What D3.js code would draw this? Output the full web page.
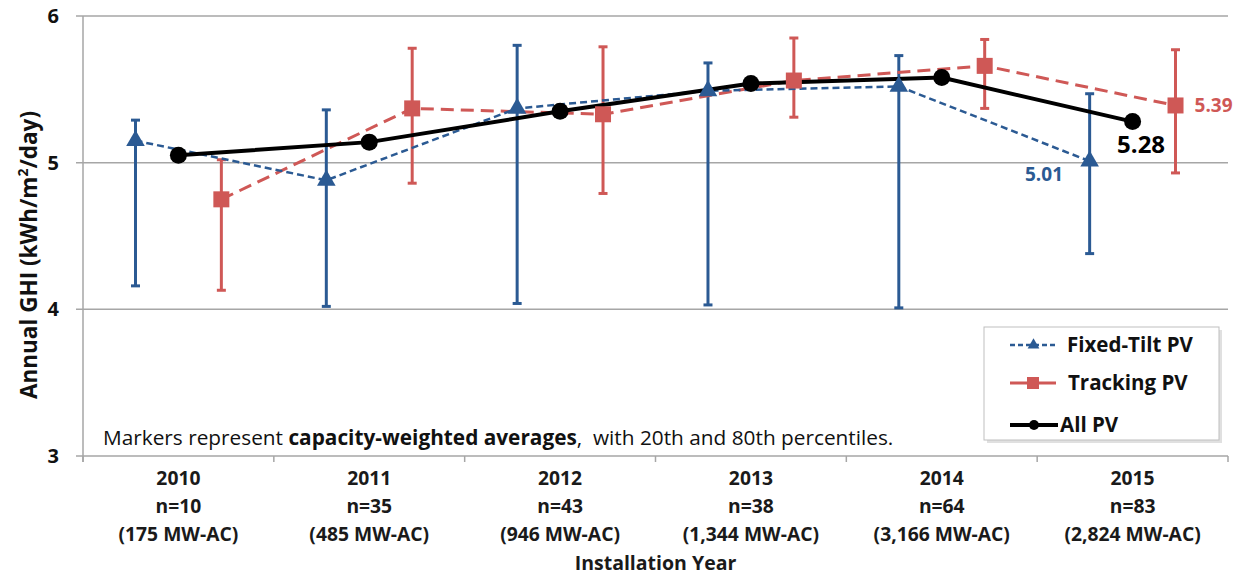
<!DOCTYPE html>
<html>
<head>
<meta charset="utf-8">
<script src="https://cdn.jsdelivr.net/npm/d3@7"></script>
<style>
  body { margin: 0; background: #fff; }
  text { font-family: "Open Sans", sans-serif; }
</style>
</head>
<body>
<div id="chart"></div>
<script>
// chart data
var years = ["2010", "2011", "2012", "2013", "2014", "2015"];
var counts = ["n=10", "n=35", "n=43", "n=38", "n=64", "n=83"];
var capacity = ["(175 MW-AC)", "(485 MW-AC)", "(946 MW-AC)", "(1,344 MW-AC)", "(3,166 MW-AC)", "(2,824 MW-AC)"];

var fixedAvg = [5.15, 4.88, 5.37, 5.49, 5.52, 5.01];
var fixedP20 = [4.16, 4.02, 4.04, 4.03, 4.01, 4.38];
var fixedP80 = [5.29, 5.36, 5.80, 5.68, 5.73, 5.47];

var trackAvg = [4.75, 5.37, 5.33, 5.56, 5.66, 5.39];
var trackP20 = [4.13, 4.86, 4.79, 5.31, 5.37, 4.93];
var trackP80 = [5.02, 5.78, 5.79, 5.85, 5.84, 5.77];

var allAvg = [5.05, 5.14, 5.35, 5.54, 5.58, 5.28];

var yTicks = [3, 4, 5, 6];

var width = 1242, height = 575;
var margin = { left: 83, right: 14, top: 16, bottom: 119 };

var svg = d3.select("#chart").append("svg")
    .attr("width", width)
    .attr("height", height);

var x = d3.scaleBand()
    .domain(years)
    .range([margin.left, width - margin.right]);

var y = d3.scaleLinear()
    .domain([3, 6])
    .range([height - margin.bottom, margin.top]);

var off = x.bandwidth() * 0.225;
function cx(i) { return x(years[i]) + x.bandwidth() / 2; }

var blue = "#2b5a93";
var red = "#cf5856";

// gridlines
svg.selectAll("line.grid")
    .data(yTicks)
    .enter()
    .append("line")
    .attr("class", "grid")
    .attr("x1", margin.left - 7)
    .attr("x2", width - margin.right)
    .attr("y1", function(d) { return y(d); })
    .attr("y2", function(d) { return y(d); })
    .attr("stroke", "#a6a6a6")
    .attr("stroke-width", 1.5);

// y axis line
svg.append("line")
    .attr("x1", margin.left).attr("x2", margin.left)
    .attr("y1", y(6)).attr("y2", y(3) + 6)
    .attr("stroke", "#a6a6a6")
    .attr("stroke-width", 1.5);

// x ticks at category boundaries
var bounds = years.map(function(d) { return x(d); }).concat([width - margin.right]);
svg.selectAll("line.xtick")
    .data(bounds)
    .enter()
    .append("line")
    .attr("class", "xtick")
    .attr("x1", function(d) { return d; })
    .attr("x2", function(d) { return d; })
    .attr("y1", y(3))
    .attr("y2", y(3) + 6)
    .attr("stroke", "#a6a6a6")
    .attr("stroke-width", 1.5);

// y tick labels
svg.selectAll("text.ytick")
    .data(yTicks)
    .enter()
    .append("text")
    .attr("class", "ytick")
    .attr("x", 59)
    .attr("y", function(d) { return y(d); })
    .attr("dy", "0.35em")
    .attr("text-anchor", "end")
    .attr("font-size", 20)
    .attr("font-weight", "bold")
    .attr("fill", "#111")
    .text(function(d) { return d; });

// y axis title
var yt = svg.append("text")
    .attr("transform", "translate(37,255) rotate(-90)")
    .attr("text-anchor", "middle")
    .attr("font-size", 22.5)
    .attr("font-weight", "bold")
    .attr("fill", "#111");
yt.append("tspan").text("Annual GHI (kWh/m");
yt.append("tspan").attr("font-size", 14).attr("dy", -9).text("2");
yt.append("tspan").attr("dy", 9).text("/day)");

// x labels
var xl = svg.selectAll("text.xlab")
    .data(years)
    .enter()
    .append("text")
    .attr("class", "xlab")
    .attr("text-anchor", "middle")
    .attr("font-size", 19.3)
    .attr("font-weight", "bold")
    .attr("fill", "#1a1a1a");
xl.append("tspan")
    .attr("x", function(d, i) { return cx(i); })
    .attr("y", 485)
    .text(function(d) { return d; });
xl.append("tspan")
    .attr("x", function(d, i) { return cx(i); })
    .attr("y", 513)
    .text(function(d, i) { return counts[i]; });
xl.append("tspan")
    .attr("x", function(d, i) { return cx(i); })
    .attr("y", 541)
    .text(function(d, i) { return capacity[i]; });

svg.append("text")
    .attr("x", (x.range()[0] + x.range()[1]) / 2)
    .attr("y", 570)
    .attr("text-anchor", "middle")
    .attr("font-size", 19.5)
    .attr("font-weight", "bold")
    .attr("fill", "#1a1a1a")
    .text("Installation Year");

// note
var note = svg.append("text")
    .attr("x", 103)
    .attr("y", 445)
    .attr("font-size", 20.8)
    .attr("fill", "#111")
    .style("white-space", "pre");
note.append("tspan").text("Markers represent ");
note.append("tspan").attr("font-weight", "bold").text("capacity-weighted averages");
note.append("tspan").text(",  with 20th and 80th percentiles.");

// error bars
function errorBars(p20, p80, shift, color) {
    var g = svg.append("g");
    g.selectAll(null)
        .data(years)
        .enter()
        .append("line")
        .attr("x1", function(d, i) { return cx(i) + shift; })
        .attr("x2", function(d, i) { return cx(i) + shift; })
        .attr("y1", function(d, i) { return y(p20[i]); })
        .attr("y2", function(d, i) { return y(p80[i]); })
        .attr("stroke", color)
        .attr("stroke-width", 3);
    [p20, p80].forEach(function(arr) {
        g.selectAll(null)
            .data(years)
            .enter()
            .append("line")
            .attr("x1", function(d, i) { return cx(i) + shift - 4.5; })
            .attr("x2", function(d, i) { return cx(i) + shift + 4.5; })
            .attr("y1", function(d, i) { return y(arr[i]); })
            .attr("y2", function(d, i) { return y(arr[i]); })
            .attr("stroke", color)
            .attr("stroke-width", 3);
    });
}
errorBars(fixedP20, fixedP80, -off, blue);
errorBars(trackP20, trackP80, off, red);

// lines
function seriesLine(vals, shift, color, w, dash) {
    var line = d3.line()
        .x(function(d, i) { return cx(i) + shift; })
        .y(function(d) { return y(d); });
    svg.append("path")
        .datum(vals)
        .attr("d", line)
        .attr("fill", "none")
        .attr("stroke", color)
        .attr("stroke-width", w)
        .attr("stroke-dasharray", dash);
}
seriesLine(trackAvg, off, red, 3, "13,7");
seriesLine(fixedAvg, -off, blue, 2.5, "7,4");
seriesLine(allAvg, 0, "#000", 4, null);

// markers
var tri = d3.symbol().type(d3.symbolTriangle).size(150);
svg.selectAll("path.tri")
    .data(fixedAvg)
    .enter()
    .append("path")
    .attr("class", "tri")
    .attr("d", tri)
    .attr("transform", function(d, i) { return "translate(" + (cx(i) - off) + "," + y(d) + ")"; })
    .attr("fill", blue);

svg.selectAll("rect.sq")
    .data(trackAvg)
    .enter()
    .append("rect")
    .attr("class", "sq")
    .attr("x", function(d, i) { return cx(i) + off - 8; })
    .attr("y", function(d) { return y(d) - 8; })
    .attr("width", 16)
    .attr("height", 16)
    .attr("fill", red);

svg.selectAll("circle.dot")
    .data(allAvg)
    .enter()
    .append("circle")
    .attr("class", "dot")
    .attr("cx", function(d, i) { return cx(i); })
    .attr("cy", function(d) { return y(d); })
    .attr("r", 8.5)
    .attr("fill", "#000");

// end labels
var last = years.length - 1;
svg.append("text")
    .attr("x", cx(last) + off + 19)
    .attr("y", y(trackAvg[last]))
    .attr("dy", "0.35em")
    .attr("font-size", 19)
    .attr("font-weight", "bold")
    .attr("fill", red)
    .text(trackAvg[last].toFixed(2));
svg.append("text")
    .attr("x", cx(last) + 8.5)
    .attr("y", y(allAvg[last]) + 23)
    .attr("dy", "0.35em")
    .attr("text-anchor", "middle")
    .attr("font-size", 24)
    .attr("font-weight", "bold")
    .attr("fill", "#000")
    .text(allAvg[last].toFixed(2));
svg.append("text")
    .attr("x", 1063)
    .attr("y", y(fixedAvg[last]) + 13)
    .attr("dy", "0.35em")
    .attr("text-anchor", "end")
    .attr("font-size", 19)
    .attr("font-weight", "bold")
    .attr("fill", blue)
    .text(fixedAvg[last].toFixed(2));

// legend
var legend = svg.append("g").attr("transform", "translate(984,327)");
legend.append("rect")
    .attr("x", 3).attr("y", 3)
    .attr("width", 235).attr("height", 113)
    .attr("fill", "#ccc")
    .attr("opacity", 0.6);
legend.append("rect")
    .attr("width", 235).attr("height", 113)
    .attr("fill", "#fff")
    .attr("stroke", "#bfbfbf")
    .attr("stroke-width", 1);

var legItems = [
    { name: "Fixed-Tilt PV", color: blue, dash: "5,3", w: 2.5, tx: 83, ty: 18, x1: 73 },
    { name: "Tracking PV", color: red, dash: null, w: 3, tx: 84, ty: 56, x1: 72 },
    { name: "All PV", color: "#000", dash: null, w: 4, tx: 76, ty: 98, x1: 74 }
];
legItems.forEach(function(d, i) {
    var g = legend.append("g");
    var x0 = 26;
    g.append("line")
        .attr("x1", x0).attr("x2", d.x1)
        .attr("y1", d.ty).attr("y2", d.ty)
        .attr("stroke", d.color)
        .attr("stroke-width", d.w)
        .attr("stroke-dasharray", d.dash);
    var mx = (x0 + d.x1) / 2;
    if (i === 0) {
        g.append("path").attr("d", d3.symbol().type(d3.symbolTriangle).size(60))
            .attr("transform", "translate(" + mx + "," + d.ty + ")")
            .attr("fill", d.color);
    } else if (i === 1) {
        g.append("rect").attr("x", mx - 6).attr("y", d.ty - 6)
            .attr("width", 12).attr("height", 12).attr("fill", d.color);
    } else {
        g.append("circle").attr("cx", mx).attr("cy", d.ty).attr("r", 5).attr("fill", d.color);
    }
    g.append("text")
        .attr("x", d.tx)
        .attr("y", d.ty)
        .attr("dy", "0.35em")
        .attr("font-size", 20.5)
        .attr("font-weight", "bold")
        .attr("fill", "#111")
        .text(d.name);
});
</script>
</body>
</html>
